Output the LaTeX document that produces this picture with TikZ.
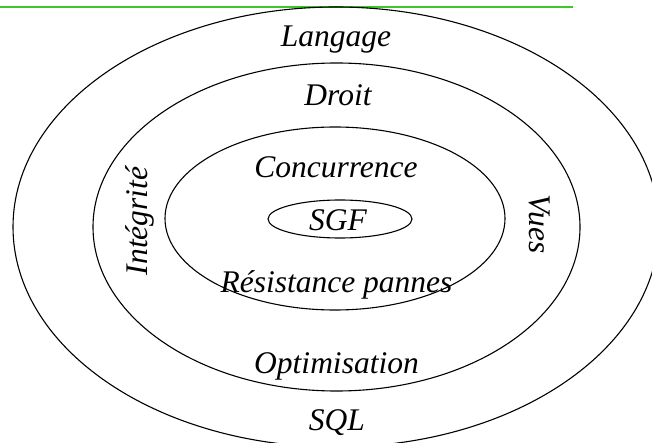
\documentclass[tikz,border=0pt]{standalone}
\usepackage{fontspec}
\setmainfont{Liberation Serif}
\begin{document}
\begin{tikzpicture}[x=1pt,y=-1pt,
  ring/.style={draw=black,line width=1.1pt},
  lbl/.style={font=\fontsize{31.5}{36}\selectfont\itshape,inner sep=0pt,anchor=base}]
\useasboundingbox (0,0) rectangle (652,443);
\clip (0,0) rectangle (652,443);
% rule across the top
\draw[draw={rgb,255:red,60;green,200;blue,40},line width=1.2pt] (0,7) -- (573,7);
% nested layers
\draw[ring] (336,227) ellipse [x radius=323,y radius=220];
\draw[ring] (336.5,227) ellipse [x radius=243.5,y radius=164];
\draw[ring] (335,218.5) ellipse [x radius=170,y radius=91.5];
\draw[ring] (340,219) ellipse [x radius=72,y radius=19];
% layer labels
\node[lbl] (langage) at (336,47) {Langage};
\node[lbl] (droit) at (338,106) {Droit};
\node[lbl] (concur) at (336,178) {Concurrence};
\node[lbl] (sgf) at (338,231) {SGF};
\node[lbl] (resist) at (336.5,292) {Résistance pannes};
\node[lbl] (optim) at (336.5,373) {Optimisation};
\node[lbl] (sql) at (337,430) {SQL};
\node[lbl,rotate=90] (integ) at (147,221) {Intégrité};
\node[lbl,rotate=-90] (vues) at (529,224) {Vues};
\end{tikzpicture}
\end{document}
